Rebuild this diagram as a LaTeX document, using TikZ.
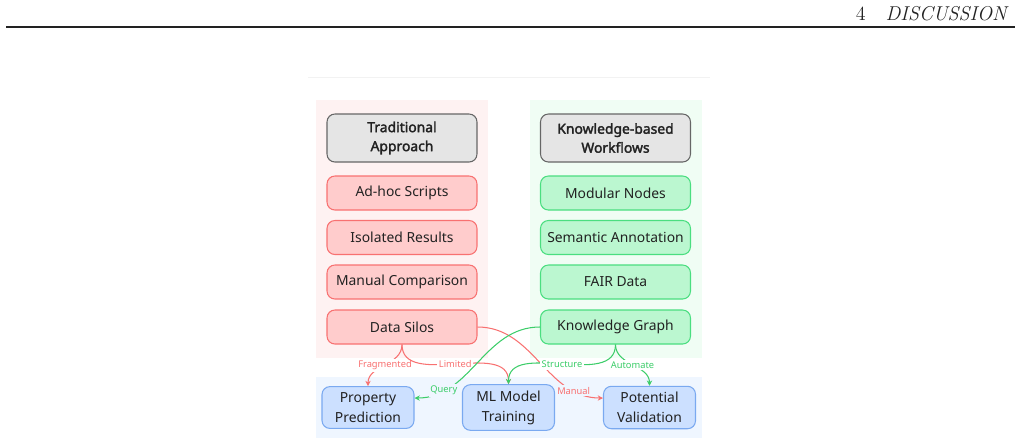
\documentclass[tikz,border=0pt]{standalone}
\usepackage{fontspec}
\usetikzlibrary{arrows.meta, positioning}
\newfontfamily\diag{Noto Sans}[BoldFont={Noto Sans}, BoldFeatures={FakeBold=2.2}]
\definecolor{DG}{RGB}{34,34,34}
\definecolor{RF}{RGB}{255,204,204}
\definecolor{RB}{RGB}{248,113,113}
\definecolor{RP}{RGB}{254,242,242}
\definecolor{GF}{RGB}{187,247,208}
\definecolor{GB}{RGB}{74,222,128}
\definecolor{GL}{RGB}{60,205,105}
\definecolor{GP}{RGB}{240,253,244}
\definecolor{BF}{RGB}{204,224,255}
\definecolor{BB}{RGB}{122,169,240}
\definecolor{BP}{RGB}{239,246,255}
\definecolor{HF}{RGB}{229,229,229}
\definecolor{HB}{RGB}{102,102,102}
\begin{document}
\begin{tikzpicture}[x=0.02cm, y=-0.02cm,
  hbox/.style={draw=HB, fill=HF, rounded corners=4.5pt, line width=0.6pt,
               minimum width=3cm, minimum height=0.96cm, align=center,
               font=\diag\bfseries\fontsize{7.9}{10.8}\selectfont, text=DG},
  rbox/.style={draw=RB, fill=RF, rounded corners=4.5pt, line width=0.6pt,
               minimum width=3cm, minimum height=0.68cm, align=center,
               font=\diag\fontsize{7.9}{10.8}\selectfont, text=DG},
  gbox/.style={rbox, draw=GB, fill=GF},
  bbox/.style={rbox, draw=BB, fill=BF, minimum width=1.84cm, minimum height=0.82cm,
               font=\diag\fontsize{7.9}{11.4}\selectfont},
  elbl/.style={font=\diag\fontsize{5.3}{6}\selectfont, inner sep=1pt, fill=white},
  redge/.style={draw=RB, line width=0.6pt, -{Stealth[length=3pt,width=3pt]}},
  gedge/.style={draw=GL, line width=0.6pt, -{Stealth[length=3pt,width=3pt]}}
]
\useasboundingbox (0,0) rectangle (1021,444);

% page header
\node[anchor=base east, font=\fontsize{11.4}{13}\selectfont, text=DG]
  (hdr) at (1013,20) {4\quad{\itshape DISCUSSION}};
\draw[DG, line width=0.75pt] (6,27) -- (1015,27);
\draw[black!5, line width=0.4pt] (308,77) -- (710,77);

% panels
\fill[RP] (316,100) rectangle (488,358);
\fill[GP] (530,100) rectangle (702,358);
\fill[BP] (316,377) rectangle (702,438);

% column heads
\node[hbox] (tradhead) at (402,138) {Traditional\\Approach};
\node[hbox] (kbhead) at (615.5,138) {Knowledge-based\\Workflows};

% column items
\foreach \i/\lbl/\y in {1/Ad-hoc Scripts/193, 2/Isolated Results/237.5,
                        3/Manual Comparison/282, 4/Data Silos/327} {
  \node[rbox] (trad\i) at (402,\y) {\lbl};
}
\foreach \i/\lbl/\y in {1/Modular Nodes/193, 2/Semantic Annotation/237.5,
                        3/FAIR Data/282, 4/Knowledge Graph/327} {
  \node[gbox] (kb\i) at (615.5,\y) {\lbl};
}

% targets
\node[bbox] (prop) at (368,407.5) {Property\\Prediction};
\node[bbox] (mlt) at (508.5,407.5) {ML Model\\Training};
\node[bbox] (potv) at (649.5,407.5) {Potential\\Validation};

% red edges
\draw[redge] (trad4.south) to[out=-90, in=90]
  node[elbl, text=RB] {Fragmented} (prop.north);
\draw[redge] (trad4.south) to[out=-90, in=90]
  node[elbl, text=RB] {Limited} (mlt.north);
\draw[redge] (trad4.east) to[out=0, in=180]
  node[elbl, text=RB, fill=BP, pos=0.8] {Manual} ([yshift=0.19cm]potv.west);

% green edges
\draw[gedge] (kb4.west) to[out=180, in=0]
  node[elbl, text=GL, fill=BP, pos=0.8] {Query} ([yshift=0.19cm]prop.east);
\draw[gedge] (kb4.south) to[out=-90, in=90]
  node[elbl, text=GL] {Structure} (mlt.north);
\draw[gedge] (kb4.south) to[out=-90, in=90]
  node[elbl, text=GL] {Automate} (potv.north);
\end{tikzpicture}
\end{document}
